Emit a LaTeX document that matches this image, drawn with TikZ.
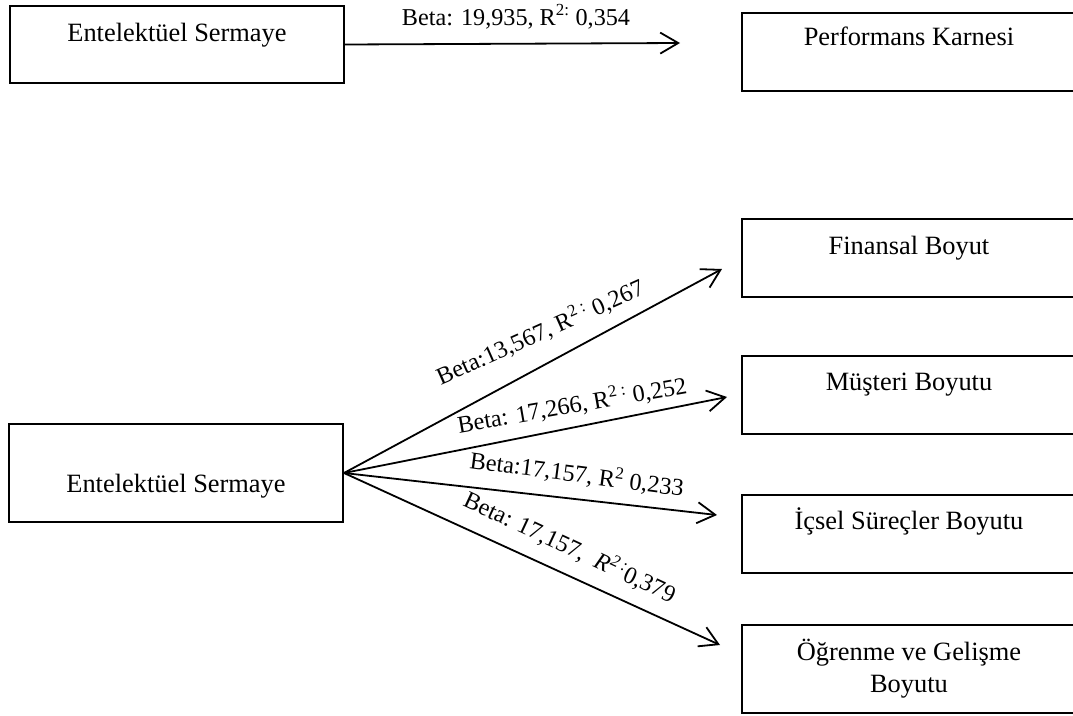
\documentclass[tikz,border=0pt]{standalone}
\usepackage{fontspec}
\setmainfont{Liberation Serif}
\usetikzlibrary{arrows.meta}
\begin{document}
\begin{tikzpicture}[x=1pt,y=-1pt,
  box/.style={draw, line width=2pt, rectangle, inner sep=0pt, anchor=north west},
  boxtext/.style={font=\fontsize{26.4}{32}\selectfont, inner sep=0pt, anchor=base, align=center},
  rel/.style={line width=1.8pt, -{Straight Barb[length=18pt,width=21pt]}},
  coef/.style={font=\fontsize{24.2}{29}\selectfont, inner sep=0pt}]
\useasboundingbox (0,0) rectangle (1073,715);
\fill[white] (0,0) rectangle (1073,715);

% Upper model: intellectual capital -> balanced scorecard
\node[box, minimum width=334pt, minimum height=77pt] (es1) at (9,5) {};
\node[boxtext] (es1t) at ([yshift=-36pt]es1.north) {Entelektüel Sermaye};
\node[box, minimum width=334pt, minimum height=78pt] (pk) at (741,12) {};
\node[boxtext] (pkt) at ([yshift=-33pt]pk.north) {Performans Karnesi};
\coordinate (tpk) at (680,43);
\draw[rel] (es1.east) -- (tpk);
\node[coef, anchor=base] (l0) at (516,25) {Beta: 19,935, R\textsuperscript{2:} 0,354};

% Lower model: intellectual capital -> the four dimensions
\node[box, minimum width=334pt, minimum height=98pt] (es2) at (8,423) {};
\node[boxtext] (es2t) at ([yshift=-19pt]es2.center) {Entelektüel Sermaye};

\node[box, minimum width=334pt, minimum height=78pt] (fin) at (741,218) {};
\node[boxtext] (fint) at ([yshift=-36pt]fin.north) {Finansal Boyut};
\node[box, minimum width=334pt, minimum height=78pt] (mus) at (741,355) {};
\node[boxtext] (must) at ([yshift=-35pt]mus.north) {Müşteri Boyutu};
\node[box, minimum width=334pt, minimum height=78pt] (ics) at (741,494) {};
\node[boxtext] (icst) at ([yshift=-35pt]ics.north) {İçsel Süreçler Boyutu};
\node[box, minimum width=334pt, minimum height=88pt] (ogr) at (741,624) {};
% two-line text: the base anchor sits on the last line
\node[boxtext] (ogrt) at ([yshift=-68pt]ogr.north) {Öğrenme ve Gelişme\\Boyutu};

\coordinate (tfin) at (722,269);
\coordinate (tmus) at (727,397);
\coordinate (tics) at (717,515);
\coordinate (togr) at (720,645);
\draw[rel] (es2.east) -- (tfin);
\draw[rel] (es2.east) -- (tmus);
\draw[rel] (es2.east) -- (tics);
\draw[rel] (es2.east) -- (togr);

\node[coef, rotate=24] (l1) at (540,332) {Beta:13,567, R\textsuperscript{2 :} 0,267};
\node[coef, rotate=10] (l2) at (572,405) {Beta: 17,266, R\textsuperscript{2 :} 0,252};
\node[coef, rotate=-7.5] (l3) at (577,474) {Beta:17,157, R\textsuperscript{2} 0,233};
\node[coef, rotate=-25] (l4) at (570,547) {Beta: 17,157,\ \ \textit{R\textsuperscript{2\,:}}0,379};
\end{tikzpicture}
\end{document}
